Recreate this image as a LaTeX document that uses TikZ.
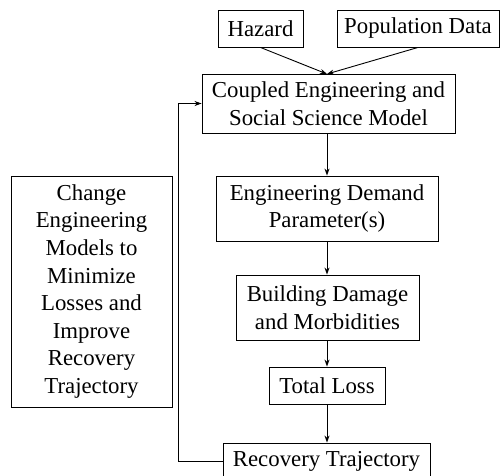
\documentclass[tikz,border=0pt]{standalone}
\usepackage{fontspec}
\setmainfont{Liberation Serif}
\usetikzlibrary{arrows.meta}
\begin{document}
\begin{tikzpicture}[x=1pt,y=-1pt,
  box/.style={draw, line width=0.9pt, inner sep=0pt, align=center,
    font=\fontsize{22.8}{27.6}\selectfont},
  link/.style={line width=0.9pt, -{Stealth[length=7pt,width=5pt]}}]
\useasboundingbox (0,0) rectangle (504,475);
\node[box, minimum width=85pt, minimum height=37pt] (haz) at (260.5,28.5) {Hazard};
\node[box, minimum width=162pt, minimum height=37pt] (pop) at (418,28.5) {Population Data};
\node[box, minimum width=253pt, minimum height=59pt] (cpl) at (328.5,103.5) {Coupled Engineering and\\Social Science Model};
\node[box, minimum width=222pt, minimum height=65pt] (edp) at (327,208.5) {Engineering Demand\\Parameter(s)};
\node[box, minimum width=183pt, minimum height=65pt] (bld) at (327.5,307.5) {Building Damage\\and Morbidities};
\node[box, minimum width=116pt, minimum height=37pt] (tot) at (327,385.5) {Total Loss};
\node[box, minimum width=207pt, minimum height=37pt] (rec) at (326.5,461.5) {Recovery Trajectory};
\node[box, minimum width=161pt, minimum height=231pt] (chg) at (91.5,291.5) {Change\\Engineering\\Models to\\Minimize\\Losses and\\Improve\\Recovery\\Trajectory};
\coordinate (join) at (327,74);
\coordinate (fb) at (178,0);
\draw[link] (haz.south) -- (join);
\draw[link] (pop.south) -- (join);
\draw[link] (join |- cpl.south) -- (join |- edp.north);
\draw[link] (join |- edp.south) -- (join |- bld.north);
\draw[link] (join |- bld.south) -- (join |- tot.north);
\draw[link] (join |- tot.south) -- (join |- rec.north);
\draw[link] (rec.west) -- (rec.west -| fb) |- (cpl.west);
\end{tikzpicture}
\end{document}
